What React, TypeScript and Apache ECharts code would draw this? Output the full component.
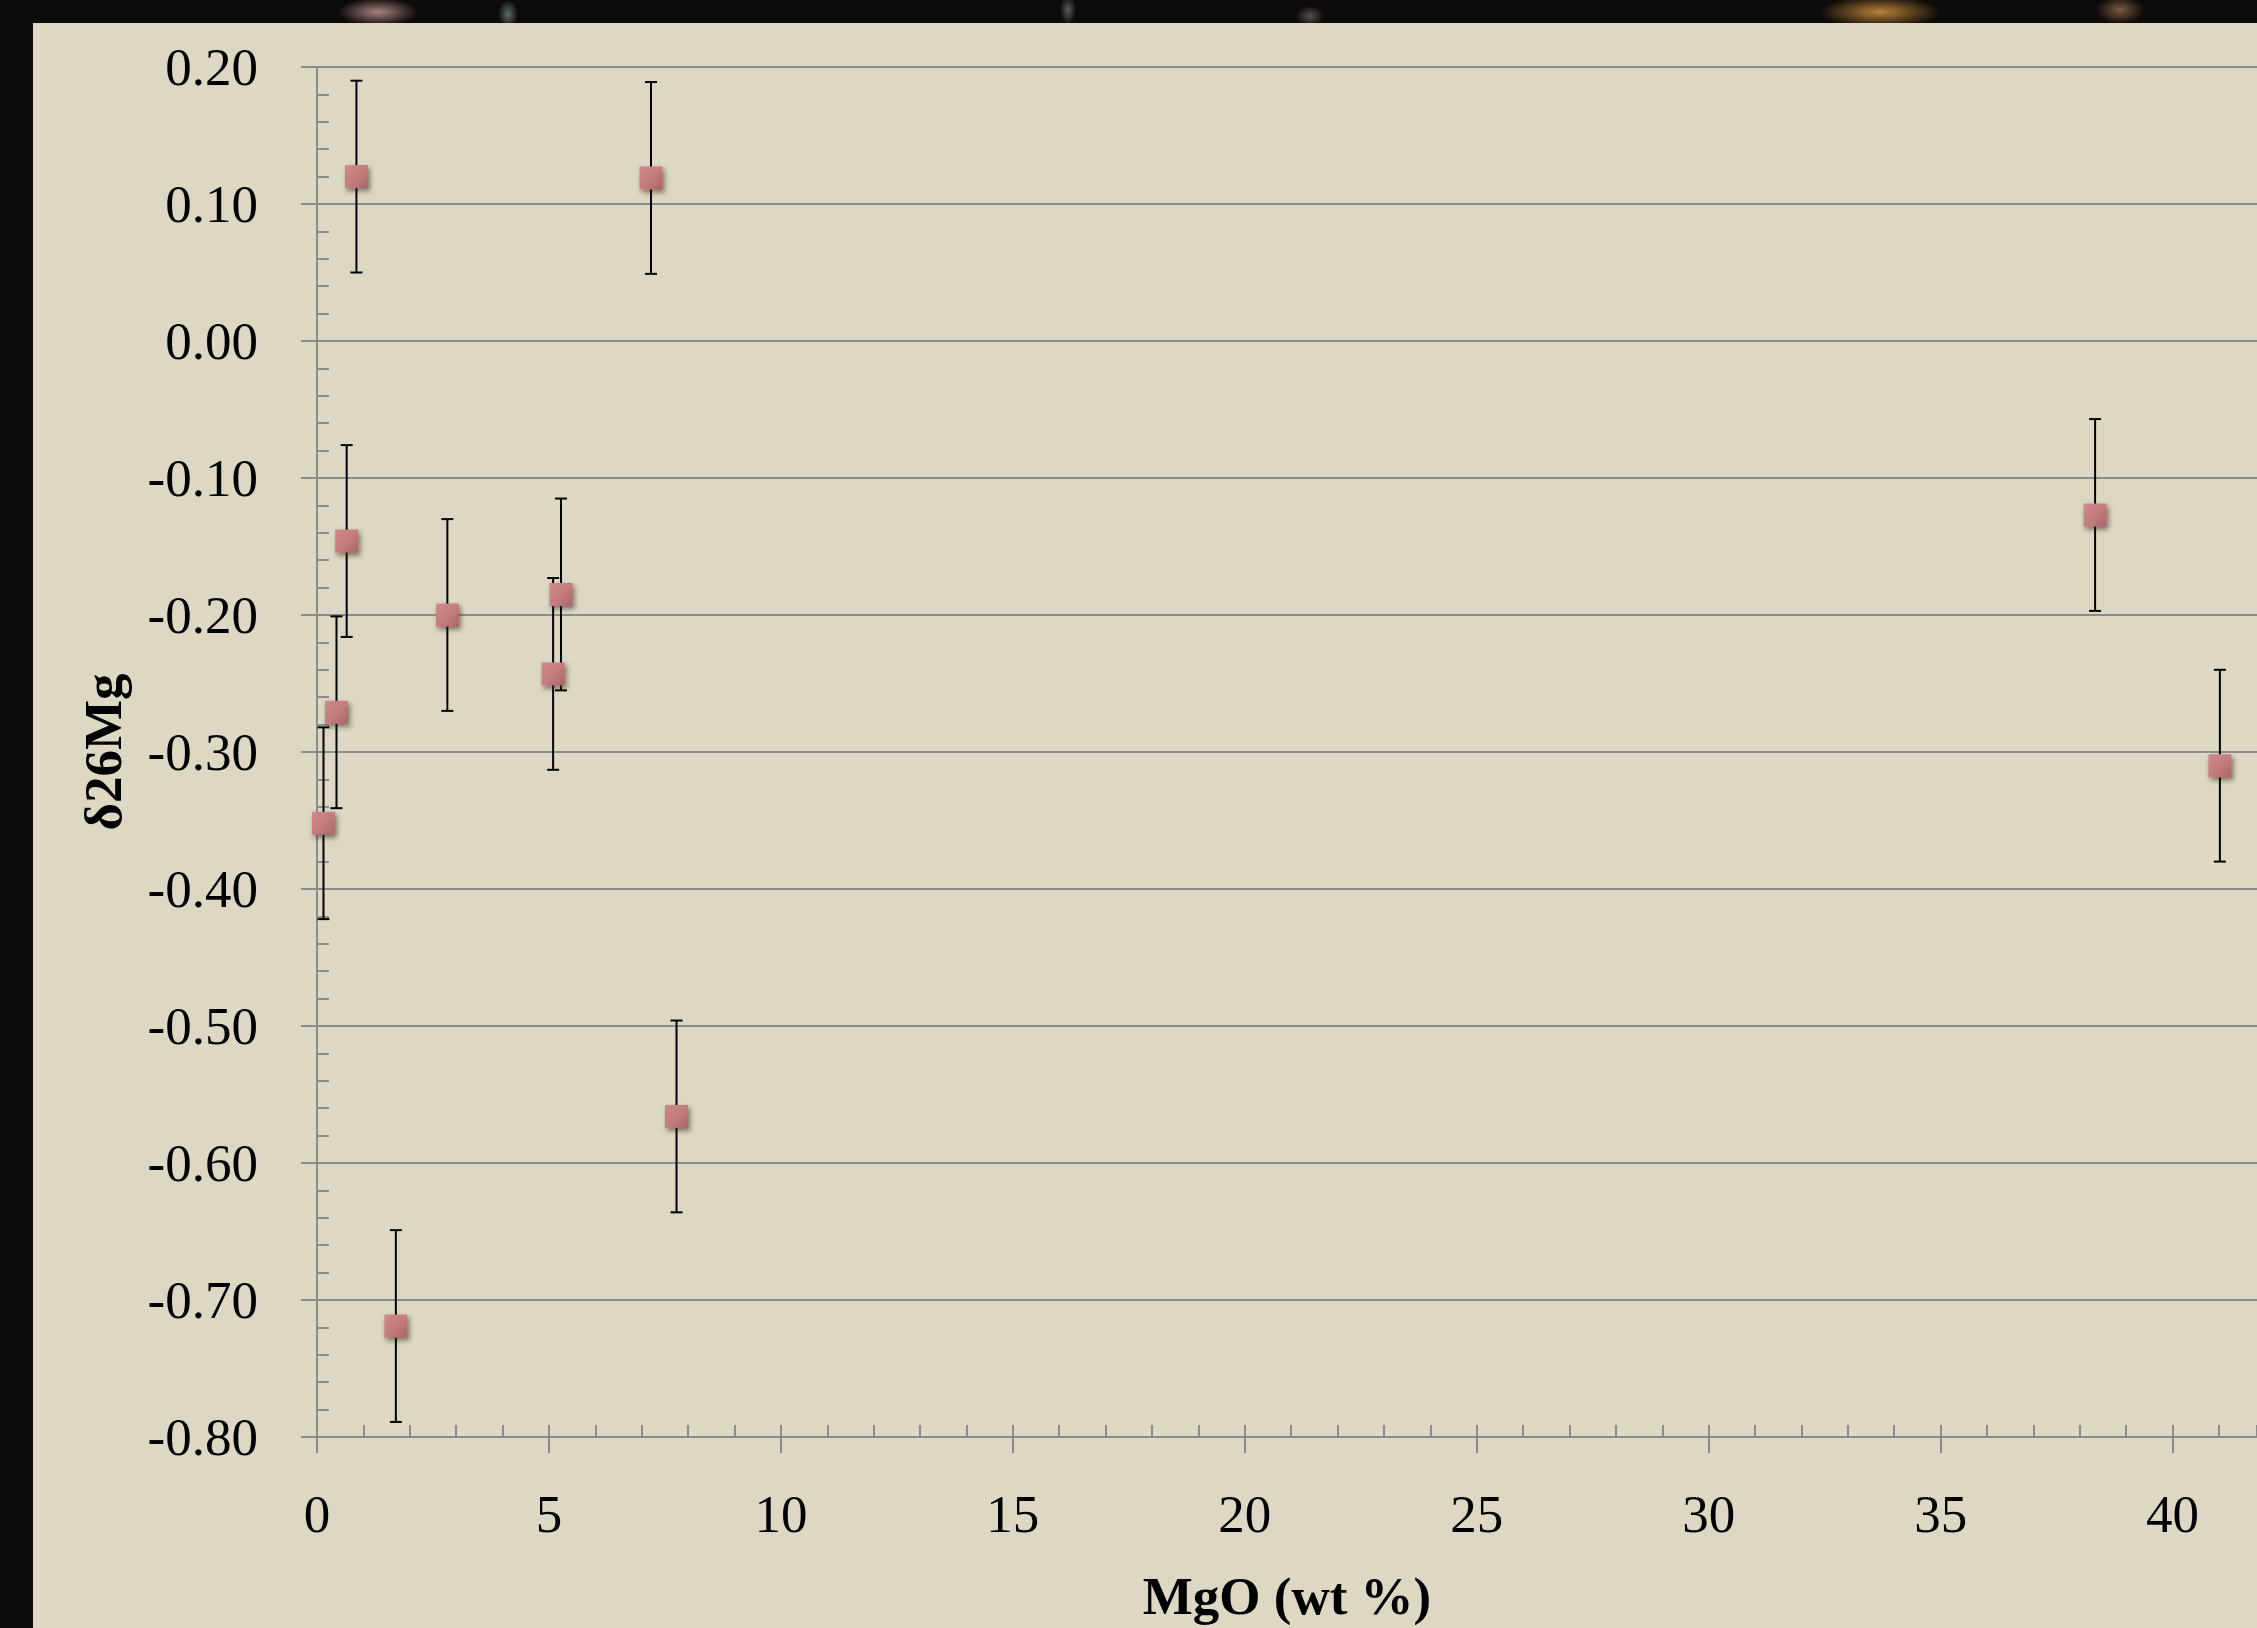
import React, { useEffect, useRef } from "react";
import * as echarts from "echarts";

// MgO (wt %) values
const mgo: number[] = [0.14, 0.42, 0.64, 0.85, 1.7, 2.81, 5.09, 5.26, 7.2, 7.75, 38.33, 41.02];
// δ26Mg values
const d26Mg: number[] = [-0.352, -0.271, -0.146, 0.12, -0.719, -0.2, -0.243, -0.185, 0.119, -0.566, -0.127, -0.31];
// ± uncertainty (2SD)
const errs: number[] = [0.07, 0.07, 0.07, 0.07, 0.07, 0.07, 0.07, 0.07, 0.07, 0.07, 0.07, 0.07];

const X_MIN = 0;
const X_MAX = 41.82;
const Y_MIN = -0.8;
const Y_MAX = 0.2;

const FONT = "'Liberation Serif', 'Times New Roman', serif";
const GRAY = "#8c8c8c";

export default function App() {
  const ref = useRef<HTMLDivElement>(null);

  useEffect(() => {
    if (!ref.current) return;
    const chart = echarts.init(ref.current, null, { renderer: "svg" });

    const points = mgo.map((x, i) => [x, d26Mg[i]]);
    const bars = mgo.map((x, i) => [x, d26Mg[i] - errs[i], d26Mg[i] + errs[i]]);

    const option: any = {
      animation: false,
      backgroundColor: "#ddd8c3",
      grid: {
        left: 284,
        right: 0,
        top: 44,
        bottom: 191,
        containLabel: false,
        outerBoundsMode: "none",
      },
      xAxis: [
        {
          type: "value",
          position: "bottom",
          min: X_MIN,
          max: X_MAX,
          interval: 5,
          name: "MgO (wt %)",
          nameLocation: "middle",
          nameGap: 132,
          nameTextStyle: { fontFamily: FONT, fontSize: 53, fontWeight: "bold", color: "#000" },
          axisLine: { show: true, onZero: false, lineStyle: { color: GRAY, width: 2 } },
          axisTick: { show: true, inside: false, length: 16, lineStyle: { color: GRAY, width: 2 } },
          axisLabel: {
            show: true,
            margin: 50,
            showMaxLabel: false,
            fontFamily: FONT,
            fontSize: 53,
            color: "#000",
            formatter: (v: number) => (Math.abs(v % 5) < 1e-9 ? String(Math.round(v)) : ""),
          },
          splitLine: { show: false },
        },
        {
          type: "value",
          position: "bottom",
          min: X_MIN,
          max: X_MAX,
          interval: 1,
          axisLine: { show: false, onZero: false },
          axisTick: { show: true, inside: true, length: 12, lineStyle: { color: GRAY, width: 2 } },
          axisLabel: { show: false },
          splitLine: { show: false },
        },
      ],
      yAxis: [
        {
          type: "value",
          position: "left",
          min: Y_MIN,
          max: Y_MAX,
          interval: 0.1,
          name: "δ26Mg",
          nameLocation: "middle",
          nameGap: 188,
          nameRotate: 90,
          nameTextStyle: { fontFamily: FONT, fontSize: 53, fontWeight: "bold", color: "#000" },
          axisLine: { show: true, onZero: false, lineStyle: { color: GRAY, width: 2 } },
          axisTick: { show: true, inside: false, length: 16, lineStyle: { color: GRAY, width: 2 } },
          axisLabel: {
            show: true,
            margin: 59,
            fontFamily: FONT,
            fontSize: 53,
            color: "#000",
            formatter: (v: number) => v.toFixed(2),
          },
          splitLine: { show: true, lineStyle: { color: GRAY, width: 2 } },
        },
        {
          type: "value",
          position: "left",
          min: Y_MIN,
          max: Y_MAX,
          interval: 0.02,
          axisLine: { show: false, onZero: false },
          axisTick: { show: true, inside: true, length: 12, lineStyle: { color: GRAY, width: 2 } },
          axisLabel: { show: false },
          splitLine: { show: false },
        },
      ],
      series: [
        {
          type: "custom",
          xAxisIndex: 0,
          yAxisIndex: 0,
          z: 2,
          encode: { x: 0, y: [1, 2] },
          data: bars,
          renderItem: (params: any, api: any) => {
            const x = api.value(0);
            const lo = api.coord([x, api.value(1)]);
            const hi = api.coord([x, api.value(2)]);
            const hw = 6;
            const style = { stroke: "#000", lineWidth: 2 };
            return {
              type: "group",
              children: [
                { type: "line", shape: { x1: lo[0], y1: lo[1], x2: hi[0], y2: hi[1] }, style },
                { type: "line", shape: { x1: lo[0] - hw, y1: lo[1], x2: lo[0] + hw, y2: lo[1] }, style },
                { type: "line", shape: { x1: hi[0] - hw, y1: hi[1], x2: hi[0] + hw, y2: hi[1] }, style },
              ],
            };
          },
        },
        {
          type: "scatter",
          xAxisIndex: 0,
          yAxisIndex: 0,
          z: 3,
          symbol: "rect",
          symbolSize: 23,
          data: points,
          itemStyle: {
            color: new echarts.graphic.LinearGradient(0, 0, 1, 1, [
              { offset: 0, color: "#d08a8c" },
              { offset: 0.55, color: "#c37b7d" },
              { offset: 1, color: "#a86466" },
            ]),
            opacity: 1,
            shadowBlur: 5,
            shadowColor: "rgba(40,30,20,0.55)",
            shadowOffsetX: 2,
            shadowOffsetY: 3,
          },
        },
      ],
    };

    chart.setOption(option);
    return () => chart.dispose();
  }, []);

  return (
    <div
      style={{
        position: "fixed",
        left: 0,
        top: 0,
        width: 2257,
        height: 1628,
        overflow: "hidden",
        background:
          "radial-gradient(ellipse 40px 14px at 378px 12px, rgba(220,170,170,0.75), rgba(0,0,0,0)), " +
          "radial-gradient(ellipse 10px 14px at 508px 14px, rgba(150,170,170,0.6), rgba(0,0,0,0)), " +
          "radial-gradient(ellipse 8px 14px at 1068px 10px, rgba(170,170,190,0.5), rgba(0,0,0,0)), " +
          "radial-gradient(ellipse 14px 10px at 1310px 16px, rgba(160,150,140,0.5), rgba(0,0,0,0)), " +
          "radial-gradient(ellipse 60px 16px at 1880px 12px, rgba(230,160,70,0.8), rgba(0,0,0,0)), " +
          "radial-gradient(ellipse 24px 14px at 2120px 10px, rgba(200,140,100,0.6), rgba(0,0,0,0)), " +
          "#0d0b09",
      }}
    >
      <div
        ref={ref}
        style={{ position: "absolute", left: 33, top: 23, width: 2224, height: 1605 }}
      />
    </div>
  );
}
